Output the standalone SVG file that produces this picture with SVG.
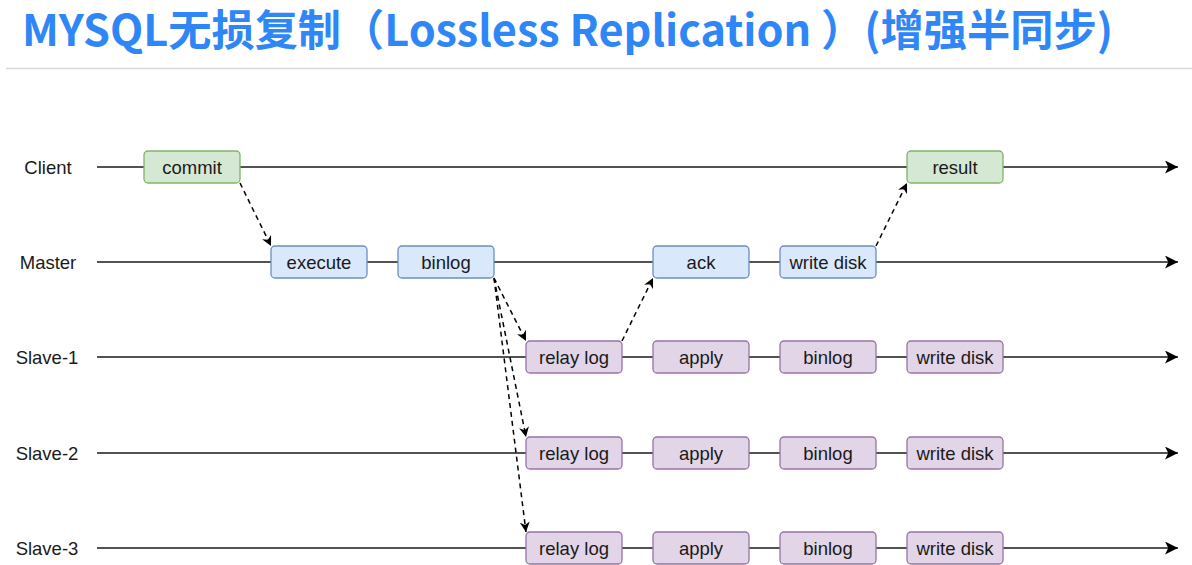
<svg xmlns="http://www.w3.org/2000/svg" width="1192" height="565" viewBox="0 0 1192 565">
<defs>
<style>
.title{font-family:"Noto Sans CJK SC","Noto Sans",sans-serif;font-weight:bold;font-size:43px;fill:#2f86f6}
.lbl{font-family:"Liberation Sans",Arial,sans-serif;font-size:18.5px;fill:#1a1a1a;text-anchor:middle;dominant-baseline:central}
.lane{stroke:#1a1a1a;stroke-width:1.5;fill:none}
.g rect{fill:#d5e8d4;stroke:#82b366;stroke-width:1.3}
.b rect{fill:#dae8fc;stroke:#6c8ebf;stroke-width:1.3}
.p rect{fill:#e1d5e7;stroke:#9673a6;stroke-width:1.3}
.dash{stroke:#000;stroke-width:1.5;stroke-dasharray:5 4;fill:none}
</style>
<marker id="ah" viewBox="0 0 10 10" refX="10" refY="5" markerWidth="10" markerHeight="10" markerUnits="userSpaceOnUse" orient="auto"><path d="M0,0 L10,5 L0,10 L3,5 Z" fill="#000"/></marker>
<marker id="la" viewBox="0 0 12 12" refX="12" refY="6" markerWidth="13" markerHeight="13" markerUnits="userSpaceOnUse" orient="auto"><path d="M0,0 L12,6 L0,12 L3,6 Z" fill="#000"/></marker>
</defs>
<rect width="1192" height="565" fill="#fff"/>
<text class="title" x="22" y="46" textLength="1091" lengthAdjust="spacingAndGlyphs">MYSQL无损复制（Lossless Replication ）(增强半同步)</text>
<line x1="6" y1="68.5" x2="1192" y2="68.5" stroke="#d9d9d9" stroke-width="1.5"/>

<g id="lanes">
<text class="lbl" x="48" y="167">Client</text>
<text class="lbl" x="48" y="262">Master</text>
<text class="lbl" x="47" y="357">Slave-1</text>
<text class="lbl" x="47" y="453">Slave-2</text>
<text class="lbl" x="47" y="548">Slave-3</text>
<line class="lane" x1="97" y1="167" x2="1178" y2="167" marker-end="url(#la)"/>
<line class="lane" x1="97" y1="262" x2="1178" y2="262" marker-end="url(#la)"/>
<line class="lane" x1="97" y1="357" x2="1178" y2="357" marker-end="url(#la)"/>
<line class="lane" x1="97" y1="453" x2="1178" y2="453" marker-end="url(#la)"/>
<line class="lane" x1="97" y1="548" x2="1178" y2="548" marker-end="url(#la)"/>
</g>

<g id="connectors">
<line class="dash" x1="240" y1="183" x2="271" y2="246" marker-end="url(#ah)"/>
<line class="dash" x1="494" y1="278" x2="526" y2="341" marker-end="url(#ah)"/>
<line class="dash" x1="494" y1="278" x2="526" y2="437" marker-end="url(#ah)"/>
<line class="dash" x1="494" y1="278" x2="526" y2="532" marker-end="url(#ah)"/>
<line class="dash" x1="622" y1="341" x2="653" y2="278" marker-end="url(#ah)"/>
<line class="dash" x1="876" y1="246" x2="907" y2="183" marker-end="url(#ah)"/>
</g>

<g id="commit" class="g"><rect x="144" y="151" width="96" height="32" rx="4"/><text class="lbl" x="192" y="167">commit</text></g>
<g id="result" class="g"><rect x="907" y="151" width="96" height="32" rx="4"/><text class="lbl" x="955" y="167">result</text></g>

<g id="m-execute" class="b"><rect x="271" y="246" width="96" height="32" rx="4"/><text class="lbl" x="319" y="262">execute</text></g>
<g id="m-binlog" class="b"><rect x="398" y="246" width="96" height="32" rx="4"/><text class="lbl" x="446" y="262">binlog</text></g>
<g id="m-ack" class="b"><rect x="653" y="246" width="96" height="32" rx="4"/><text class="lbl" x="701" y="262">ack</text></g>
<g id="m-writedisk" class="b"><rect x="780" y="246" width="96" height="32" rx="4"/><text class="lbl" x="828" y="262">write disk</text></g>

<g id="s1-relaylog" class="p"><rect x="526" y="341" width="96" height="32" rx="4"/><text class="lbl" x="574" y="357">relay log</text></g>
<g id="s1-apply" class="p"><rect x="653" y="341" width="96" height="32" rx="4"/><text class="lbl" x="701" y="357">apply</text></g>
<g id="s1-binlog" class="p"><rect x="780" y="341" width="96" height="32" rx="4"/><text class="lbl" x="828" y="357">binlog</text></g>
<g id="s1-writedisk" class="p"><rect x="907" y="341" width="96" height="32" rx="4"/><text class="lbl" x="955" y="357">write disk</text></g>

<g id="s2-relaylog" class="p"><rect x="526" y="437" width="96" height="32" rx="4"/><text class="lbl" x="574" y="453">relay log</text></g>
<g id="s2-apply" class="p"><rect x="653" y="437" width="96" height="32" rx="4"/><text class="lbl" x="701" y="453">apply</text></g>
<g id="s2-binlog" class="p"><rect x="780" y="437" width="96" height="32" rx="4"/><text class="lbl" x="828" y="453">binlog</text></g>
<g id="s2-writedisk" class="p"><rect x="907" y="437" width="96" height="32" rx="4"/><text class="lbl" x="955" y="453">write disk</text></g>

<g id="s3-relaylog" class="p"><rect x="526" y="532" width="96" height="32" rx="4"/><text class="lbl" x="574" y="548">relay log</text></g>
<g id="s3-apply" class="p"><rect x="653" y="532" width="96" height="32" rx="4"/><text class="lbl" x="701" y="548">apply</text></g>
<g id="s3-binlog" class="p"><rect x="780" y="532" width="96" height="32" rx="4"/><text class="lbl" x="828" y="548">binlog</text></g>
<g id="s3-writedisk" class="p"><rect x="907" y="532" width="96" height="32" rx="4"/><text class="lbl" x="955" y="548">write disk</text></g>
</svg>
